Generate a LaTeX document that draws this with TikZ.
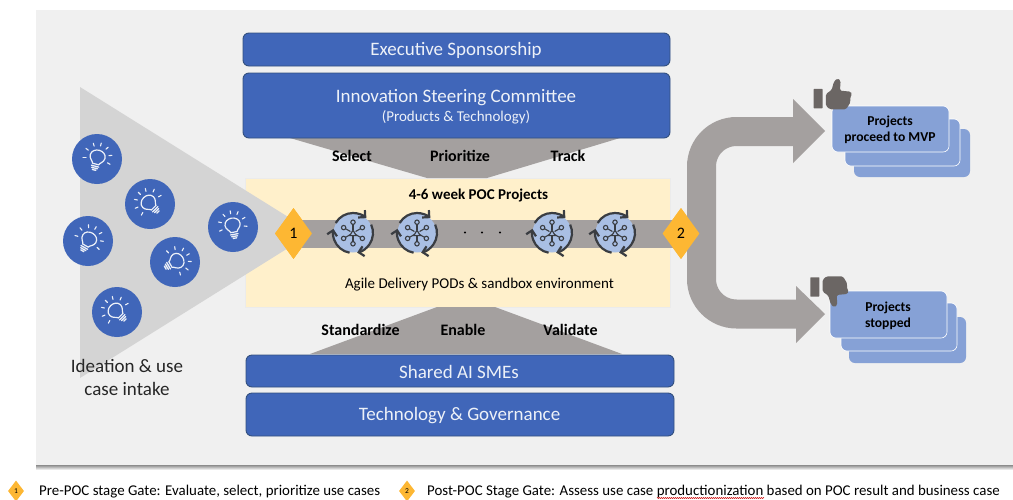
\documentclass[tikz,border=0pt]{standalone}
\usepackage{fontspec}
\setmainfont{Carlito}
\usetikzlibrary{shapes.geometric,arrows.meta,decorations.pathmorphing}
\definecolor{panelc}{HTML}{F0F0F0}
\definecolor{boxc}{HTML}{4066B9}
\definecolor{boxe}{HTML}{33507F}
\definecolor{lightb}{HTML}{86A1D6}
\definecolor{podb}{HTML}{A9BFE4}
\definecolor{yell}{HTML}{FFF0CB}
\definecolor{gate}{HTML}{FDB733}
\definecolor{tri}{HTML}{D4D4D4}
\definecolor{flow}{HTML}{A4A09F}
\definecolor{hand}{HTML}{6B6664}
\definecolor{ink}{HTML}{3A3D42}
\definecolor{soft}{HTML}{EDF1F8}
\tikzset{
  x=1pt,y=-1pt,
  bluebox/.style={draw=boxe,line width=.9pt,fill=boxc,rounded corners=6pt},
  stackbox/.style={draw=white,line width=.6pt,fill=lightb,rounded corners=6pt},
  stackback/.style={fill=lightb,rounded corners=6pt},
  boxtext/.style={text=soft,font=\fontsize{19}{21}\selectfont,inner sep=0pt},
  lab/.style={font=\bfseries\fontsize{16}{18}\selectfont,inner sep=0pt},
  plain/.style={font=\fontsize{15}{17}\selectfont,inner sep=0pt},
  gatebig/.style={diamond,fill=gate,inner sep=0pt,minimum width=37pt,minimum height=51pt,font=\fontsize{16}{17}\selectfont},
  gatesmall/.style={diamond,fill=gate,inner sep=0pt,minimum width=16pt,minimum height=21pt,font=\fontsize{7.5}{8}\selectfont},
  legend/.style={anchor=west,inner sep=0pt,font=\fontsize{14.9}{16}\selectfont},
  projtext/.style={inner sep=0pt,font=\bfseries\fontsize{13.6}{15}\selectfont},
  bulb/.pic={
    \fill[boxc] (0,0) circle[radius=25];
    \begin{scope}[y=1pt,rotate=#1,draw=soft,line width=1.2pt,line cap=round]
      \draw (-3.2,-5.2) .. controls (-3.6,-3) and (-7.6,-1.5) .. (-7.6,2.6) .. controls (-7.6,6.6) and (-3.8,9) .. (0,9) .. controls (3.8,9) and (7.6,6.6) .. (7.6,2.6) .. controls (7.6,-1.5) and (3.6,-3) .. (3.2,-5.2) -- cycle;
      \draw[line width=1.3pt] (-3.8,-7.4) -- (3.8,-7.4) (-3,-9.4) -- (3,-9.4) (-1.8,-11.3) -- (1.8,-11.3);
      \foreach \a in {-15,22,58,90,122,158,195} {\draw[line width=1.1pt,shift={(0,2)}] (\a:11.5) -- (\a:14.5);}
    \end{scope}
  },
  pod/.pic={
    \fill[podb] (0,0) circle[radius=19.5];
    \begin{scope}[y=1pt,draw=ink,line width=2.2pt]
      \draw[-{Straight Barb[length=5pt,width=10pt]}] (150:20) arc[start angle=150,end angle=48,radius=20];
      \draw[-{Straight Barb[length=5pt,width=10pt]}] (25:20) arc[start angle=25,end angle=-78,radius=20];
      \draw[-{Straight Barb[length=5pt,width=10pt]}] (-100:20) arc[start angle=-100,end angle=-192,radius=20];
      \draw[line width=1.2pt] (0,2.8) -- (-3.2,-2.6) -- (3.2,-2.6) -- cycle;
      \foreach \a in {90,150,210,270,330,30} {
        \draw[line width=1.1pt] (\a:3) -- (\a:8.6);
        \draw[line width=1.1pt] (\a:10.8) circle[radius=2.2];
      }
    \end{scope}
  },
  thumb/.pic={
    \begin{scope}[x=.3333pt,y=-.3333pt]
      \fill[hand,rounded corners=.5pt] (-59,-13) rectangle (-32,45);
      \fill[hand,rounded corners=1.5pt] (-22,2) -- (-5,-10) -- (2,-35) -- (12,-45) -- (22,-38) -- (20,-8) -- (52,-5) -- (56,2) -- (50,15) -- (52,25) -- (45,38) -- (38,48) -- (-10,48) -- (-22,38) -- cycle;
    \end{scope}
  },
}
\begin{document}
\begin{tikzpicture}
\useasboundingbox (0,0) rectangle (1013,499);
% panel
\shade[top color=black!45,bottom color=white] (36,465) rectangle (1013,470);
\fill[panelc] (36,10) rectangle (1013,465);
% yellow area
\node[fill=yell,draw=black!8,line width=.5pt,minimum width=425pt,minimum height=129pt,inner sep=0pt] (pocarea) at (457.5,242.5) {};
% intake triangle
\fill[tri] (80,87) -- (313,232.5) -- (80,378) -- cycle;
% funnels
\fill[flow] (290,138) -- (620,138) -- (487,178) -- (427,178) -- cycle;
\fill[flow] (437,307) -- (495,307) -- (622,354) -- (310,354) -- cycle;
% boxes
\node[bluebox,minimum width=427pt,minimum height=33pt,inner sep=0pt] (exec) at (456.5,49.5) {};
\node[boxtext] (exect) at (456,50) {Executive Sponsorship};
\node[bluebox,minimum width=427pt,minimum height=65pt,inner sep=0pt] (isc) at (456.5,105.5) {};
\node[boxtext] (isct) at (456,97.5) {Innovation Steering Committee};
\node[boxtext,font=\fontsize{15}{16}\selectfont] (isct2) at (456,117) {(Products \& Technology)};
\node[bluebox,minimum width=428pt,minimum height=32pt,inner sep=0pt] (ai) at (460,371) {};
\node[boxtext] (ait) at (459,371.5) {Shared AI SMEs};
\node[bluebox,minimum width=428pt,minimum height=43pt,inner sep=0pt] (tg) at (460,414.5) {};
\node[boxtext] (tgt) at (459.5,415.5) {Technology \& Governance};
% labels
\node[lab] (l1) at (352,155.5) {Select};
\node[lab] (l2) at (460,155.5) {Prioritize};
\node[lab] (l3) at (568,155.5) {Track};
\node[lab] (l4) at (360.5,329.5) {Standardize};
\node[lab] (l5) at (463,329.5) {Enable};
\node[lab] (l6) at (570.5,329.5) {Validate};
\node[lab,font=\bfseries\fontsize{15}{17}\selectfont] (poc) at (478.5,195) {4-6 week POC Projects};
\node[plain] (agile) at (479.5,285) {Agile Delivery PODs \& sandbox environment};
\node[boxtext,text=black!85] (i1) at (127,365.5) {Ideation \& use};
\node[boxtext,text=black!85] (i2) at (127,388.5) {case intake};
% gates and band
\node[gatebig] (g1) at (293.5,233.5) {1};
\node[gatebig] (g2) at (681,233.5) {2};
\draw[flow,line width=28pt] (g1.center) -- (g2.center);
\node[gatebig] at (g1.center) {1};
% decision arrow
\coordinate (up) at (796,131.5);
\coordinate (dn) at (799,314);
\draw[flow,line width=29pt,rounded corners=35pt] (up) -- (701.5,131.5) -- (701.5,314) -- (dn);
\fill[flow] (793,99) -- (825,131) -- (793,163) -- cycle;
\fill[flow] (796,286) -- (825,314) -- (796,343) -- cycle;
\node[gatebig] at (g2.center) {2};
% pods
\pic at (353,233) {pod};
\pic at (417,233) {pod};
\pic at (552,233) {pod};
\pic at (615,233) {pod};
\foreach \x in {465,482,500} \fill[black] (\x,232.5) circle[radius=1.2];
% ideas
\pic at (97,159) {bulb=-15};
\pic at (150,204) {bulb=45};
\pic at (88,241) {bulb=-30};
\pic at (175,262) {bulb=-60};
\pic at (117,312) {bulb=45};
\pic at (233,227) {bulb=10};
% outcome stacks
\fill[stackback] (854,129) rectangle (970,177);
\draw[stackbox] (845,119) rectangle (960,166);
\draw[stackbox] (832,106) rectangle (949,152);
\node[projtext] (p1) at (890,121.5) {Projects};
\node[projtext] (p2) at (890,137.5) {proceed to MVP};
\fill[stackback] (849,317) rectangle (966,363);
\draw[stackbox] (841,303) rectangle (957,351);
\draw[stackbox] (830,291) rectangle (947,338);
\node[projtext] (s1) at (888,307.5) {Projects};
\node[projtext] (s2) at (888,323.5) {stopped};
\pic at (833.3,93.3) {thumb};
\pic[yscale=-1] at (830,292.3) {thumb};
% legend
\node[gatesmall] (k1) at (16,491) {1};
\node[legend] (t1) at (39,491.5) {Pre-POC stage Gate: Evaluate, select, prioritize use cases};
\node[gatesmall] (k2) at (407,491) {2};
\node[legend] (t2) at (427,491.5) {Post-POC Stage Gate: Assess use case productionization based on POC result and business case};
\draw[red!80!black,line width=.4pt,decorate,decoration={zigzag,amplitude=.6pt,segment length=2pt}] (657,498) -- (764,498);
\end{tikzpicture}
\end{document}
